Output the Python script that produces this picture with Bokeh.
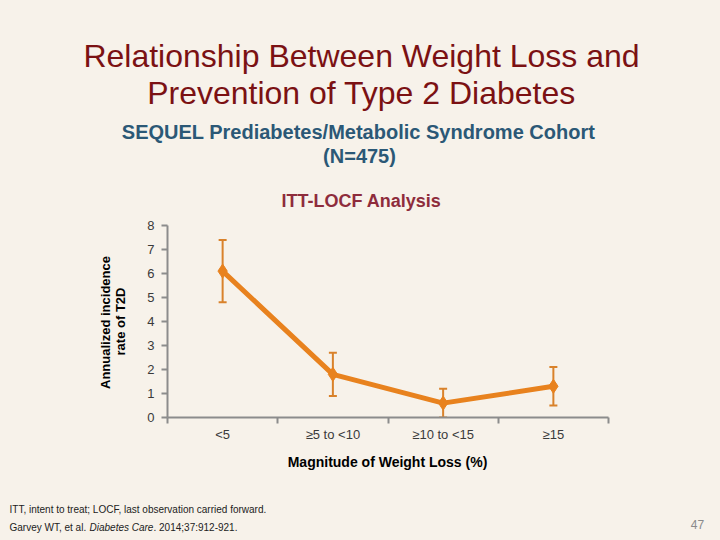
from bokeh.plotting import figure
from bokeh.layouts import column, row
from bokeh.models import Range1d, FixedTicker, Label, Whisker, ColumnDataSource, TeeHead
from bokeh.embed import file_html
from bokeh.resources import INLINE

# ---- data ----
categories = ["<5", "≥5 to <10", "≥10 to <15", "≥15"]
incidence = [6.1, 1.8, 0.6, 1.3]
ci_lower = [4.8, 0.9, 0.0, 0.5]
ci_upper = [7.4, 2.7, 1.2, 2.1]
y_ticks = [0, 1, 2, 3, 4, 5, 6, 7, 8]
positions = [1, 2, 3, 4]

BG = "#f7f2ea"
FONT = "Liberation Sans"
W = 720
TOP_H = 215        # title band
MID_H = 231        # chart band
BOT_H = 540 - TOP_H - MID_H
LEFT_W = 140       # y-axis title strip


def text_fig(width, height):
    f = figure(width=width, height=height, output_backend="svg", toolbar_location=None,
               x_range=Range1d(0, 1), y_range=Range1d(0, 1),
               x_axis_location=None, y_axis_location=None,
               min_border=0)
    f.background_fill_color = BG
    f.border_fill_color = BG
    f.outline_line_color = None
    f.grid.visible = False
    return f


def lab(f, x0, y0, x, y, text, size, color="#000000", style="normal",
        align="center", angle=0.0, baseline="alphabetic"):
    # x, y are page pixels; (x0, y0) is the page position of the figure's top-left corner
    f.add_layout(Label(x=x - x0, y=(y0 + f.height) - y, x_units="screen", y_units="screen",
                       text=text, text_font=FONT, text_font_size=size,
                       text_color=color, text_font_style=style, text_align=align,
                       text_baseline=baseline, angle=angle))


# ---- title band ----
top = text_fig(W, TOP_H)
TITLE_C = "#7b1113"
lab(top, 0, 0, 361, 55, "Relationship Between Weight Loss and", "32px", TITLE_C)
lab(top, 0, 0, 361, 92, "Prevention of Type 2 Diabetes", "32px", TITLE_C)
lab(top, 0, 0, 358, 131, "SEQUEL Prediabetes/Metabolic Syndrome Cohort", "20px", "#2b5876", "bold")
lab(top, 0, 0, 359, 155, "(N=475)", "20px", "#2b5876", "bold")
lab(top, 0, 0, 361, 200, "ITT-LOCF Analysis", "18px", "#8e2c3c", "bold")

# ---- y-axis title strip ----
left = text_fig(LEFT_W, MID_H)
lab(left, 0, TOP_H, 105, 351, "Annualized incidence", "13px", "#000000", "bold",
    angle=1.5708, baseline="middle")
lab(left, 0, TOP_H, 120, 350, "rate of T2D", "13px", "#000000", "bold",
    angle=1.5708, baseline="middle")

# ---- chart ----
FL, FR, FT, FB = 167, 608, 225, 417   # frame edges in page pixels
p = figure(width=W - LEFT_W, height=MID_H, output_backend="svg", toolbar_location=None,
           x_range=Range1d(0.5, 4.5), y_range=Range1d(0, 8),
           min_border_left=FL - LEFT_W, min_border_right=W - FR,
           min_border_top=FT - TOP_H, min_border_bottom=(TOP_H + MID_H) - FB)
p.background_fill_color = BG
p.border_fill_color = BG
p.outline_line_color = None
p.grid.visible = False

src = ColumnDataSource(dict(x=positions, y=incidence, lower=ci_lower, upper=ci_upper))

ORANGE = "#e8821e"
ERR = "#d9822b"
p.line("x", "y", source=src, line_color=ORANGE, line_width=5)
wh = Whisker(source=src, base="x", upper="upper", lower="lower",
             line_color=ERR, line_width=2,
             upper_head=TeeHead(size=8, line_color=ERR, line_width=2),
             lower_head=TeeHead(size=8, line_color=ERR, line_width=2))
p.add_layout(wh)
p.scatter("x", "y", source=src, marker="diamond", size=14,
          fill_color=ORANGE, line_color=ORANGE)

AX = "#8c8c8c"
p.xaxis.ticker = FixedTicker(ticks=positions, minor_ticks=[0.5, 1.5, 2.5, 3.5, 4.5])
p.xaxis.major_label_overrides = {pos: c for pos, c in zip(positions, categories)}
p.xaxis.major_tick_out = 0
p.xaxis.major_tick_in = 0
p.xaxis.minor_tick_out = 6
p.xaxis.minor_tick_in = 0
p.xaxis.minor_tick_line_color = AX
p.xaxis.minor_tick_line_width = 2
p.xaxis.major_label_standoff = 3

p.yaxis.ticker = FixedTicker(ticks=y_ticks)
p.yaxis.major_tick_out = 6
p.yaxis.major_tick_in = 0
p.yaxis.minor_tick_line_color = None
p.yaxis.major_tick_line_color = AX
p.yaxis.major_tick_line_width = 2
p.yaxis.major_label_standoff = 7

for ax in (p.xaxis, p.yaxis):
    ax.axis_line_color = AX
    ax.axis_line_width = 2
    ax.major_label_text_font = FONT
    ax.major_label_text_font_size = "13px"
    ax.major_label_text_color = "#3a3a3a"

# ---- bottom band: x-axis title and footnotes ----
bot = text_fig(W, BOT_H)
Y0 = TOP_H + MID_H
lab(bot, 0, Y0, 387, 461, "Magnitude of Weight Loss (%)", "14px", "#000000", "bold")
lab(bot, 0, Y0, 9, 509, "ITT, intent to treat; LOCF, last observation carried forward.",
    "10px", "#222222", align="left")
lab(bot, 0, Y0, 9, 527, "Garvey WT, et al.", "10px", "#222222", align="left")
lab(bot, 0, Y0, 89, 527, "Diabetes Care", "10px", "#222222", style="italic", align="left")
lab(bot, 0, Y0, 153, 527, ". 2014;37:912-921.", "10px", "#222222", align="left")
lab(bot, 0, Y0, 697, 524, "47", "12px", "#8a8a8a")

layout = column(top, row(left, p, spacing=0, styles={"background-color": BG}), bot,
                spacing=0, styles={"background-color": BG})
open("out.html", "w").write(file_html(layout, INLINE))
